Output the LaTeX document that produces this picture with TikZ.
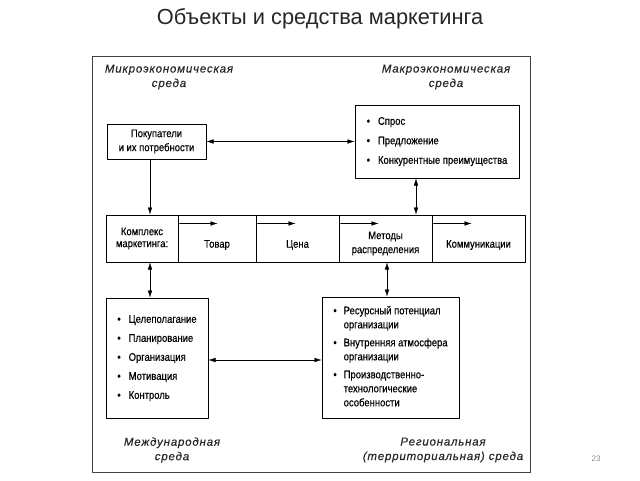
\documentclass[tikz,border=0pt]{standalone}
\usepackage{fontspec}
\setmainfont{Liberation Sans}
\newfontfamily\boxfont{Liberation Sans}[FakeStretch=0.86,FakeBold=0.4]
\newfontfamily\envfont{Liberation Sans}[LetterSpace=7,FakeBold=0.3]
\usetikzlibrary{arrows.meta}
\begin{document}
\begin{tikzpicture}[x=1pt,y=-1pt,>={Latex[length=7pt,width=4.5pt]},line join=round,line cap=round,
	font=\boxfont\fontsize{11}{14}\selectfont,
	box/.style={draw,line width=1pt,inner sep=0pt,align=center},
	env/.style={font=\envfont\itshape\fontsize{11.5}{14.5}\selectfont,align=center,text=black!85}]
	\useasboundingbox (0,0) rectangle (640,480);
	\node[font=\normalfont\fontsize{21.8}{24}\selectfont,text=black!85] (title) at (320,19) {Объекты и средства маркетинга};
	\node[font=\normalfont\fontsize{8}{10}\selectfont,text=black!45] (num) at (596,459) {23};
	\draw[line width=0.8pt,black!75] (92,56) rectangle (530,472);
	% environments
	\node[env] (mikro) at (169,77) {Микроэкономическая\\среда};
	\node[env] (makroenv) at (446,77) {Макроэкономическая\\среда};
	\node[env] (mezhd) at (172,450) {Международная\\среда};
	\node[env] (region) at (443,450) {Региональная\\(территориальная) среда};
	% boxes
	\node[box,minimum width=99,minimum height=35] (pok) at (156.5,141.5) {Покупатели\\и их потребности};
	\node[box,minimum width=164,minimum height=73] (makro) at (437,141.5) {\begin{tabular}{@{}l@{\hspace{8pt}}l@{}}
		\textbullet & Спрос\\[5.5pt]
		\textbullet & Предложение\\[5.5pt]
		\textbullet & Конкурентные преимущества
	\end{tabular}};
	\node[box,minimum width=102,minimum height=120] (upr) at (157,358) {\begin{tabular}{@{}l@{\hspace{8pt}}l@{}}
		\textbullet & Целеполагание\\[5pt]
		\textbullet & Планирование\\[5pt]
		\textbullet & Организация\\[5pt]
		\textbullet & Мотивация\\[5pt]
		\textbullet & Контроль
	\end{tabular}};
	\node[box,minimum width=137,minimum height=121] (res) at (390.5,357.5) {\begin{tabular}{@{}l@{\hspace{7pt}}l@{}}
		\textbullet & Ресурсный потенциал\\
		 & организации\\[4pt]
		\textbullet & Внутренняя атмосфера\\
		 & организации\\[4pt]
		\textbullet & Производственно-\\
		 & технологические\\
		 & особенности
	\end{tabular}};
	% marketing mix
	\node[box,minimum width=72,minimum height=47] (c1) at (142,238.5) {};
	\node[box,minimum width=78,minimum height=47] (c2) at (217,238.5) {};
	\node[box,minimum width=83,minimum height=47] (c3) at (297.5,238.5) {};
	\node[box,minimum width=93,minimum height=47] (c4) at (385.5,238.5) {};
	\node[box,minimum width=93,minimum height=47] (c5) at (478.5,238.5) {};
	\node[align=center,font=\boxfont\fontsize{11}{12}\selectfont] (c1t) at (c1.center) {Комплекс\\маркетинга:};
	\node (c2t) at ([yshift=-6.5]c2.center) {Товар};
	\node (c3t) at ([yshift=-6.5]c3.center) {Цена};
	\node[align=center] (c4t) at ([yshift=-5]c4.center) {Методы\\распределения};
	\node (c5t) at ([yshift=-6.5]c5.center) {Коммуникации};
	\foreach \c in {c2,c3,c4,c5}
		\draw[->] ([xshift=2,yshift=-9]\c.north west) -- ++(38,0);
	% links
	\draw[<->] (pok) -- (makro);
	\draw[->] ([xshift=-6.5]pok.south) -- ([xshift=-6.5]pok.south |- c1.north);
	\draw[<->] ([xshift=-21]makro.south) -- ([xshift=-21]makro.south |- c4.north);
	\draw[<->] ([xshift=8]c1.south) -- ([xshift=8]c1.south |- upr.north);
	\draw[<->] ([xshift=1.5]c4.south) -- ([xshift=1.5]c4.south |- res.north);
	\draw[<->] ([yshift=-2]upr.east) -- ([yshift=-2]upr.east -| res.west);
\end{tikzpicture}
\end{document}
